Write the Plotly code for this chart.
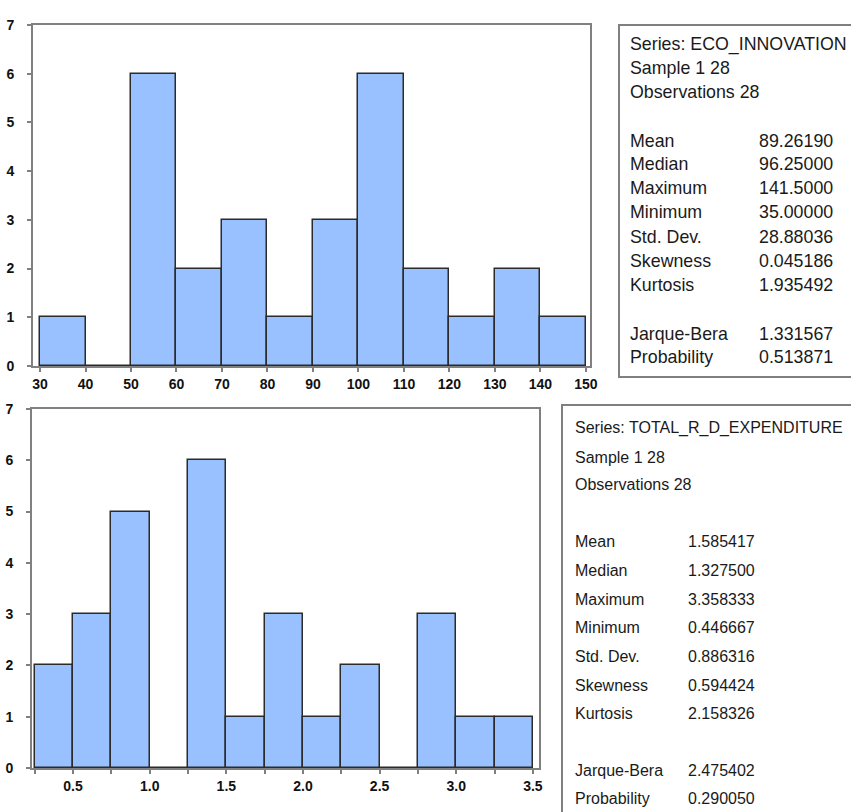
import plotly.graph_objects as go

W, H = 851, 812

# ---- data ----
eco_bin_left = [30, 40, 50, 60, 70, 80, 90, 100, 110, 120, 130, 140]
eco_counts = [1, 0, 6, 2, 3, 1, 3, 6, 2, 1, 2, 1]
eco_bin_width = 10
eco_xticks = [30, 40, 50, 60, 70, 80, 90, 100, 110, 120, 130, 140, 150]

rd_bin_left = [0.25, 0.5, 0.75, 1.0, 1.25, 1.5, 1.75, 2.0, 2.25, 2.5, 2.75, 3.0, 3.25]
rd_counts = [2, 3, 5, 0, 6, 1, 3, 1, 2, 0, 3, 1, 1]
rd_bin_width = 0.25
rd_xticks = [0.5, 1.0, 1.5, 2.0, 2.5, 3.0, 3.5]

y_ticks = [0, 1, 2, 3, 4, 5, 6, 7]

eco_stats_head = ["Series: ECO_INNOVATION", "Sample 1 28", "Observations 28"]
eco_stat_names = ["Mean", "Median", "Maximum", "Minimum", "Std. Dev.", "Skewness", "Kurtosis"]
eco_stat_vals = ["89.26190", "96.25000", "141.5000", "35.00000", "28.88036", "0.045186", "1.935492"]
eco_test_names = ["Jarque-Bera", "Probability"]
eco_test_vals = ["1.331567", "0.513871"]

rd_stats_head = ["Series: TOTAL_R_D_EXPENDITURE", "Sample 1 28", "Observations 28"]
rd_stat_names = ["Mean", "Median", "Maximum", "Minimum", "Std. Dev.", "Skewness", "Kurtosis"]
rd_stat_vals = ["1.585417", "1.327500", "3.358333", "0.446667", "0.886316", "0.594424", "2.158326"]
rd_test_names = ["Jarque-Bera", "Probability"]
rd_test_vals = ["2.475402", "0.290050"]

# ---- helpers ----
def px(x):
    return x / W

def py(y):
    return 1 - y / H

BAR_COLOR = "#99C0FF"
EDGE = "#2b2b2b"
AXC = "#808080"
TICKFONT = dict(family="Liberation Sans, Arial", size=14, color="#111", weight="bold")

fig = go.Figure()

fig.add_trace(go.Bar(
    x=[b + eco_bin_width / 2 for b in eco_bin_left], y=eco_counts, width=eco_bin_width,
    marker=dict(color=BAR_COLOR, line=dict(color=EDGE, width=1.5)),
    xaxis="x", yaxis="y", showlegend=False, hoverinfo="x+y"))

fig.add_trace(go.Bar(
    x=[b + rd_bin_width / 2 for b in rd_bin_left], y=rd_counts, width=rd_bin_width,
    marker=dict(color=BAR_COLOR, line=dict(color=EDGE, width=1.5)),
    xaxis="x2", yaxis="y2", showlegend=False, hoverinfo="x+y"))

axis_common = dict(showline=True, linecolor=AXC, linewidth=2, mirror=True,
                   ticks="outside", ticklen=4, tickcolor=AXC, tickwidth=1.5,
                   showgrid=False, zeroline=False, tickfont=TICKFONT, automargin=False,
                   fixedrange=True)

fig.update_layout(
    width=W, height=H, margin=dict(l=0, r=0, t=0, b=0),
    paper_bgcolor="white", plot_bgcolor="white", bargap=0,
    xaxis=dict(domain=[px(33), px(590)], range=[28.46, 150.9], tickvals=eco_xticks,
               anchor="y", **axis_common),
    yaxis=dict(domain=[py(366), py(25)], range=[0, 7], tickvals=y_ticks,
               anchor="x", ticklabelstandoff=10, **axis_common),
    xaxis2=dict(domain=[px(32), px(539)], range=[0.232, 3.54], tickvals=rd_xticks,
                tickformat=".1f", anchor="y2",
                minor=dict(tickvals=rd_bin_left + [3.5], ticks="outside", ticklen=4,
                           tickcolor=AXC, tickwidth=1.5),
                **axis_common),
    yaxis2=dict(domain=[py(768), py(409)], range=[0, 7], tickvals=y_ticks,
                anchor="x2", ticklabelstandoff=10, **axis_common),
)

# stats boxes
fig.add_shape(type="rect", xref="paper", yref="paper",
              x0=px(619), x1=px(900), y0=py(377), y1=py(25),
              line=dict(color=AXC, width=2), fillcolor="rgba(0,0,0,0)")
fig.add_shape(type="rect", xref="paper", yref="paper",
              x0=px(562), x1=px(900), y0=py(850), y1=py(405),
              line=dict(color=AXC, width=2), fillcolor="rgba(0,0,0,0)")

def add_text(x, y, s, font):
    fig.add_annotation(x=px(x), y=py(y), xref="paper", yref="paper", text=s,
                       showarrow=False, xanchor="left", yanchor="middle", font=font)

f_top = dict(family="Liberation Sans, Arial", size=17.8, color="#1a1a1a")
f_bot = dict(family="Liberation Sans, Arial", size=16, color="#1a1a1a")

top_head_y = [45, 68, 92]
top_stat_y = [141, 164, 188, 212, 237, 261, 285]
top_test_y = [334, 357]
for s, y in zip(eco_stats_head, top_head_y):
    add_text(628, y, s, f_top)
for n, v, y in zip(eco_stat_names, eco_stat_vals, top_stat_y):
    add_text(628, y, n, f_top)
    add_text(757, y, v, f_top)
for n, v, y in zip(eco_test_names, eco_test_vals, top_test_y):
    add_text(628, y, n, f_top)
    add_text(757, y, v, f_top)

bot_head_y = [428, 457, 485]
bot_stat_y = [541, 570, 599, 627, 656, 685, 713]
bot_test_y = [770, 798]
for s, y in zip(rd_stats_head, bot_head_y):
    add_text(573, y, s, f_bot)
for n, v, y in zip(rd_stat_names, rd_stat_vals, bot_stat_y):
    add_text(573, y, n, f_bot)
    add_text(686, y, v, f_bot)
for n, v, y in zip(rd_test_names, rd_test_vals, bot_test_y):
    add_text(573, y, n, f_bot)
    add_text(686, y, v, f_bot)

fig.write_html("out.html", config={"displayModeBar": False})

# remove default body margin so the figure sits at the page origin
with open("out.html", "r", encoding="utf-8") as fh:
    html = fh.read()
html = html.replace("<head>", "<head><style>html,body{margin:0;padding:0;overflow:hidden;}</style>", 1)
with open("out.html", "w", encoding="utf-8") as fh:
    fh.write(html)
